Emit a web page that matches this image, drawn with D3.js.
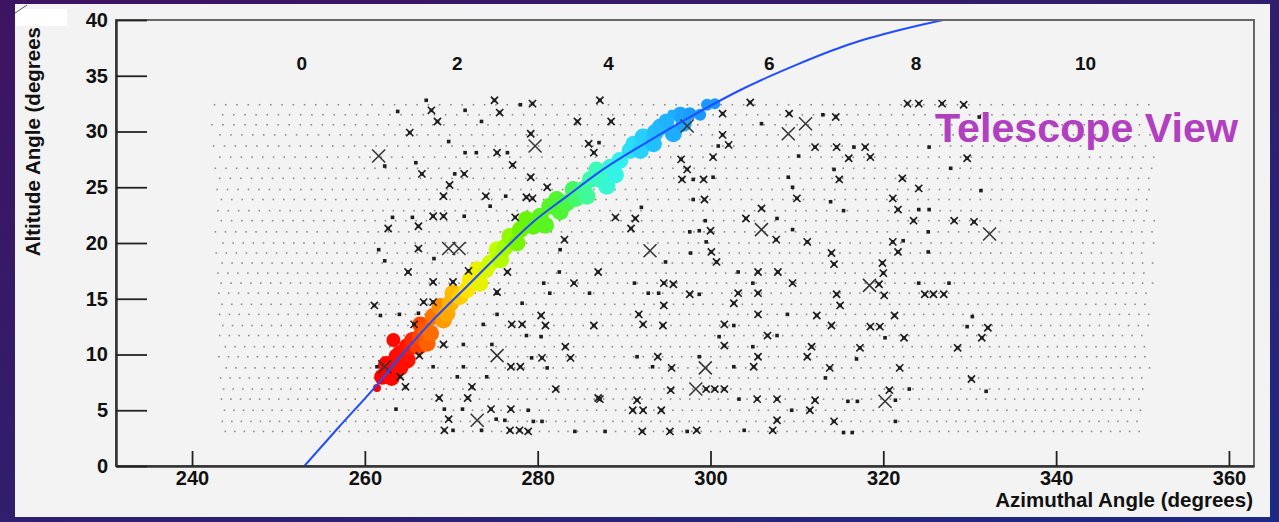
<!DOCTYPE html>
<html>
<head>
<meta charset="utf-8">
<script src="https://cdn.jsdelivr.net/npm/d3@7"></script>
<style>
  html, body { margin: 0; padding: 0; background: #2c1a68; }
  svg { display: block; }
  text { font-family: "Liberation Sans", Arial, sans-serif; font-weight: bold; fill: #111; }
</style>
</head>
<body>
<svg id="chart" width="1279" height="522"></svg>
<script>
// camera pixel grid (rows of the telescope camera, projected on the sky)
const rowAlt = [32.4, 31.5, 30.6, 29.7, 28.7, 27.7, 26.7, 25.8, 24.8, 23.9, 22.9, 22.0, 21.0, 20.0, 19.1, 18.2,
                17.3, 16.4, 15.5, 14.5, 13.6, 12.6, 11.7, 10.7, 9.8, 8.8, 7.9, 6.9, 6.0, 5.0, 4.0, 3.1];
const rowAzMin = [242.6, 242.9, 242.3, 242.6, 242.5, 242.6, 242.7, 242.6, 242.9, 242.8, 243.0, 242.8, 242.7, 243.0, 242.8, 242.9,
                  243.0, 242.8, 243.1, 242.9, 243.2, 243.0, 243.2, 243.3, 243.1, 243.4, 243.3, 243.1, 243.4, 243.2, 243.5, 243.3];
const rowAzMax = [350.9, 350.6, 350.8, 351.2, 351.5, 351.7, 351.3, 351.6, 351.2, 351.5, 351.3, 351.6, 351.2, 351.4, 351.0, 351.3,
                  351.1, 351.4, 351.0, 351.2, 350.9, 351.1, 350.8, 351.0, 350.6, 350.9, 350.5, 350.7, 350.4, 350.6, 350.3, 350.5];
const pixelPitch = 1.1;

// fitted shower track
const curveAz  = [253.0, 257.0, 261.2, 264.1, 267.9, 271.8, 275.7, 279.5, 283.4, 287.2, 293.0, 298.8, 303.4, 310.0, 316.0, 321.9, 326.9];
const curveAlt = [0.0, 3.5, 7.1, 9.8, 13.1, 16.1, 19.1, 21.9, 24.2, 26.4, 29.2, 31.8, 33.7, 36.0, 37.8, 39.1, 40.0];

// hit pixels along the track [az, alt, radius]
const hits = [
  [261.4,7.0,4],[262.0,8.0,8],[263.1,7.9,8],[262.5,9.1,8.5],[263.7,9.8,8.5],[264.1,10.1,8.5],[264.9,9.5,8.5],
  [264.9,10.7,8.5],[265.2,10.6,8],[264.1,8.8,8],[263.3,11.3,7],[265.5,11.3,8],[266.2,10.7,8.5],[266.4,11.6,8.5],
  [267.2,11.0,8.5],[266.4,12.7,8],[267.0,12.2,8.5],[267.6,11.9,8.5],[267.9,13.4,8.5],[269.1,13.1,8.5],[268.7,14.3,8.5],
  [269.5,13.7,8.5],[269.9,14.6,8.5],[270.2,15.5,8.5],[271.0,15.2,8.5],[271.8,15.8,8.5],[272.2,16.7,8.5],[273.3,16.4,8.5],
  [273.0,17.6,8.5],[274.0,17.6,8.5],[274.5,18.2,8.5],[275.3,19.4,8.5],[275.7,18.5,8.5],[276.2,19.6,8.5],[276.8,20.6,8.5],
  [278.0,21.2,8.5],[277.6,20.0,8.5],[278.7,22.1,8.5],[279.5,21.5,8.5],[280.3,22.4,8.5],[280.9,21.6,8.5],[281.4,23.3,8.5],
  [282.6,22.8,8.5],[282.2,23.9,8.5],[283.4,23.6,8.5],[284.1,24.8,8.5],[284.4,24.0,8.5],[285.3,24.8,8.5],[285.7,24.2,8.5],
  [286.1,25.7,8.5],[286.8,26.6,8],[287.2,25.7,8.5],[288.0,25.1,8.5],[288.4,26.8,8.5],[289.0,26.1,8.5],[289.5,27.4,8.5],
  [290.7,28.3,8.5],[291.1,28.9,8],[291.9,28.3,8.5],[292.2,29.5,8.5],[293.4,28.9,8.5],[293.6,29.9,8.5],[294.2,30.4,8.5],
  [294.9,30.9,8],[295.7,29.8,8.5],[296.5,31.5,8],[296.9,30.7,8],[297.6,31.6,6.5],[298.8,31.5,6],[299.6,32.4,6],
  [300.5,32.5,5.5],[295.5,31.6,4]
];

// triggered pixels
const xMarks = [
  [262.7,21.3],[261.1,14.4],[266.8,14.7],[267.9,14.7],[265.7,12.7],[269.1,10.9],[266.3,9.9],[264.1,8.0],[264.7,7.1],
  [272.4,7.1],[268.6,6.1],[274.6,5.1],[269.7,4.2],[269.2,3.2],[275.0,32.8],[279.4,32.5],[267.7,31.9],[275.6,31.7],
  [268.4,30.9],[284.6,30.9],[265.2,29.9],[279.2,29.8],[285.9,28.9],[275.3,28.1],[286.5,28.1],[277.1,27.0],[266.6,26.2],
  [271.5,26.2],[279.2,25.9],[269.8,25.2],[281.1,25.0],[269.1,24.2],[274.0,24.2],[278.7,24.1],[279.4,24.0],[267.9,22.4],
  [269.1,22.4],[277.4,22.3],[266.2,21.5],[283.1,20.3],[266.2,19.5],[265.0,17.4],[272.0,17.5],[276.5,17.4],[287.0,17.4],
  [267.9,16.5],[270.2,16.5],[284.2,16.4],[275.3,15.6],[280.4,13.5],[277.0,12.7],[278.2,12.7],[280.9,12.6],[286.5,12.6],
  [283.2,10.7],[280.5,9.7],[283.8,9.7],[276.9,8.9],[278.0,8.9],[282.1,6.9],[287.0,6.1],[271.9,6.1],[276.9,5.1],
  [276.8,3.2],[277.9,3.2],[278.9,3.1],[287.2,32.8],
  [304.6,32.6],[301.4,31.6],[309.1,31.6],[288.5,30.9],[301.4,29.7],[302.1,28.8],[296.6,27.5],[300.3,27.7],[297.3,26.6],
  [296.7,25.7],[299.2,25.7],[299.3,23.9],[310.0,24.0],[305.9,23.1],[289.0,22.3],[291.3,22.2],[304.1,22.2],[290.8,21.3],
  [300.0,21.1],[307.6,20.3],[300.1,19.2],[300.7,18.3],[305.5,17.4],[307.8,17.4],[294.6,16.4],[295.7,16.3],[309.5,16.4],
  [297.6,15.4],[303.2,15.5],[305.5,15.5],[294.6,14.4],[302.7,14.6],[291.7,13.6],[305.5,13.6],[292.2,12.7],[294.5,12.6],
  [301.6,12.7],[306.6,11.7],[301.6,10.8],[293.9,9.8],[305.5,9.8],[295.5,8.8],[305.0,8.9],[295.4,6.8],[299.5,6.9],
  [300.5,6.9],[301.6,6.9],[291.5,5.9],[287.2,6.0],[305.4,6.0],[307.7,6.0],[291.0,5.0],[292.2,5.0],[294.3,5.0],
  [307.7,4.1],[292.1,3.1],[295.3,3.1],[298.4,3.2],[307.2,3.2],
  [322.8,32.5],[324.1,32.5],[326.8,32.5],[329.3,32.4],[314.5,31.3],[312.1,28.6],[314.6,28.6],[317.9,28.6],[316.0,27.6],
  [318.5,27.7],[329.7,27.6],[314.9,25.7],[322.2,25.8],[324.1,24.9],[321.1,24.0],[321.7,23.0],[323.5,22.0],[328.2,22.0],
  [330.5,21.9],[311.2,20.1],[321.1,20.1],[314.0,19.1],[321.7,19.2],[314.3,18.1],[319.9,18.2],[320.0,17.3],[319.5,16.3],
  [320.1,15.3],[314.6,15.4],[324.8,15.4],[325.8,15.4],[327.0,15.4],[315.0,14.4],[312.3,13.5],[321.3,13.5],[314.0,12.6],
  [318.5,12.5],[319.6,12.5],[332.1,12.4],[322.4,11.5],[331.4,11.5],[311.7,10.7],[317.3,10.6],[328.6,10.6],[311.2,9.8],
  [313.8,8.8],[321.9,8.8],[330.2,7.8],[320.7,6.8],[312.1,5.9],[311.5,5.0],[314.3,4.0]
];
const bigXMarks = [
  [261.6,27.8],[262.3,8.9],[279.7,28.7],[269.7,19.5],[270.9,19.5],[275.3,9.9],[273.0,4.1],[297.3,30.5],[309.0,29.8],
  [305.9,21.2],[293.0,19.3],[299.4,8.8],[298.3,6.9],[311.0,30.7],[332.3,20.8],[318.4,16.2],[320.2,5.8]
];
const squareMarks = [
  [262.3,26.9],[263.8,31.8],[263.2,22.3],[261.6,19.4],[262.3,18.4],[261.8,13.5],[264.0,13.6],[261.4,8.9],[263.6,5.1],
  [266.2,13.7],[273.7,12.7],[275.3,15.5],[271.4,10.9],[274.7,10.9],[267.9,8.9],[271.4,8.9],[270.7,8.0],[274.1,8.0],
  [271.3,5.1],[275.2,4.2],[270.2,3.2],[273.5,3.2],[278.0,32.4],[267.1,32.8],[271.6,31.9],[273.5,30.9],[269.7,29.1],
  [271.6,28.1],[272.9,28.1],[276.5,28.1],[265.9,27.2],[270.4,26.2],[276.3,24.2],[274.5,23.3],[265.5,22.3],[271.5,22.4],
  [268.0,18.6],[282.6,19.4],[282.5,17.4],[280.7,16.4],[281.4,15.5],[286.0,15.5],[278.2,14.6],[275.3,13.6],[278.7,11.7],
  [280.4,11.6],[279.3,9.7],[281.1,8.8],[269.2,5.1],[278.9,5.0],[276.2,4.1],[279.5,4.0],[280.5,4.0],[284.3,3.1],[287.1,29.0],
  [305.9,30.7],[300.9,28.7],[310.2,27.8],[298.0,25.7],[300.3,25.9],[309.0,25.9],[309.5,25.0],[298.0,23.9],[292.0,23.2],
  [307.7,22.2],[299.4,22.0],[297.6,21.0],[298.7,21.1],[309.5,21.2],[299.5,20.1],[297.7,19.1],[294.8,18.3],[303.2,17.4],
  [291.2,16.4],[304.9,16.4],[292.8,15.5],[294.0,15.5],[298.7,15.4],[308.9,13.6],[302.7,12.6],[307.7,11.7],[301.0,11.6],
  [304.9,10.7],[291.5,9.8],[298.7,9.8],[293.3,8.9],[302.7,8.9],[303.3,6.0],[309.4,5.0],[297.3,3.1],[303.9,3.2],[287.8,3.1],
  [313.0,31.5],[316.6,28.6],[325.3,28.6],[314.3,26.6],[327.8,26.7],[331.3,24.7],[313.9,23.7],[315.4,22.9],[324.1,23.0],
  [325.3,23.0],[325.2,21.0],[322.3,20.2],[325.2,19.2],[324.1,16.4],[327.6,16.4],[330.3,13.4],[329.7,12.5],[320.2,11.5],
  [316.9,9.6],[313.3,7.9],[323.0,6.9],[331.9,6.7],[315.9,5.8],[321.4,5.9],[317.0,5.8],[321.4,4.0],[315.4,3.0],[316.4,3.0],
  [331.1,31.3]
];

// time labels across the top (microseconds)
const timeLabels = ["0", "2", "4", "6", "8", "10"];
const timeAz = [252.7, 270.7, 288.2, 306.8, 323.8, 343.4];
const timeAlt = 35.5;

const xMajor = [240, 260, 280, 300, 320, 340, 360];
const yMajor = [0, 5, 10, 15, 20, 25, 30, 35, 40];

const svg = d3.select("#chart");
const W = 1279, H = 522;
const margin = {left: 116, right: 25, top: 20, bottom: 56};

// slide background
const defs = svg.append("defs");
const grad = defs.append("linearGradient").attr("id", "bg")
    .attr("x1", "0").attr("y1", "0").attr("x2", "1").attr("y2", "1");
grad.append("stop").attr("offset", "0").attr("stop-color", "#3e1462");
grad.append("stop").attr("offset", "0.6").attr("stop-color", "#2d2070");
grad.append("stop").attr("offset", "1").attr("stop-color", "#1c2a84");
svg.append("rect").attr("width", W).attr("height", H).attr("fill", "url(#bg)");

// light panel
svg.append("rect").attr("x", 15).attr("y", 4).attr("width", 1255).attr("height", 513).attr("fill", "#f3f3f3");
svg.append("rect").attr("x", 15).attr("y", 9).attr("width", 52).attr("height", 17).attr("fill", "#ffffff");
svg.append("line").attr("x1", 15).attr("y1", 13).attr("x2", 27).attr("y2", 5)
    .attr("stroke", "#555").attr("stroke-width", 1);

const x = d3.scaleLinear().domain([231.2, 362.9]).range([margin.left, W - margin.right]);
const y = d3.scaleLinear().domain([0, 40]).range([H - margin.bottom, margin.top]);

defs.append("clipPath").attr("id", "plotclip").append("rect")
    .attr("x", x.range()[0]).attr("y", y.range()[1])
    .attr("width", x.range()[1] - x.range()[0]).attr("height", y.range()[0] - y.range()[1]);

// camera pixel dots
const gridDots = [];
rowAlt.forEach(function(alt, i) {
  const step = pixelPitch / Math.cos(alt * Math.PI / 180);
  for (let az = rowAzMin[i] + (i % 2) * step / 2; az <= rowAzMax[i]; az += step) {
    gridDots.push([az, alt]);
  }
});
svg.append("g")
  .selectAll("rect")
  .data(gridDots)
  .join("rect")
  .attr("x", d => x(d[0]) - 0.8)
  .attr("y", d => y(d[1]) - 0.8)
  .attr("width", 1.6)
  .attr("height", 1.6)
  .attr("fill", "#8c8c8c");

// track hits coloured by azimuth (time order)
const hitColor = d3.scaleLinear()
  .domain([262, 265, 267, 269.5, 272, 275, 278, 283, 286.5, 289.5, 293, 298])
  .range(["#ff0000", "#ff1400", "#ff5a00", "#ffa800", "#ffe800", "#c8ff00", "#6cf400", "#4cf53a",
          "#3cfcb4", "#33f0f0", "#22c4ff", "#1a98ff"])
  .clamp(true);
svg.append("g")
  .selectAll("circle")
  .data(hits)
  .join("circle")
  .attr("cx", d => x(d[0]))
  .attr("cy", d => y(d[1]))
  .attr("r", d => d[2])
  .attr("fill", d => hitColor(d[0]));

// markers
const marks = svg.append("g").attr("fill", "#1e1e1e").attr("stroke", "#1e1e1e");
marks.selectAll("path.x")
  .data(xMarks)
  .join("path")
  .attr("class", "x")
  .attr("d", function(d) {
    const cx = x(d[0]), cy = y(d[1]), s = 3.6;
    return "M" + (cx - s) + "," + (cy - s) + "L" + (cx + s) + "," + (cy + s) +
           "M" + (cx - s) + "," + (cy + s) + "L" + (cx + s) + "," + (cy - s);
  })
  .attr("stroke-width", 1.6);
marks.selectAll("rect.xc")
  .data(xMarks)
  .join("rect")
  .attr("class", "xc")
  .attr("x", d => x(d[0]) - 1.8)
  .attr("y", d => y(d[1]) - 1.8)
  .attr("width", 3.6).attr("height", 3.6)
  .attr("stroke", "none");
marks.selectAll("path.bx")
  .data(bigXMarks)
  .join("path")
  .attr("class", "bx")
  .attr("d", function(d) {
    const cx = x(d[0]), cy = y(d[1]), s = 6.5;
    return "M" + (cx - s) + "," + (cy - s) + "L" + (cx + s) + "," + (cy + s) +
           "M" + (cx - s) + "," + (cy + s) + "L" + (cx + s) + "," + (cy - s);
  })
  .attr("stroke", "#333")
  .attr("stroke-width", 1.5);
marks.selectAll("rect.sq")
  .data(squareMarks)
  .join("rect")
  .attr("class", "sq")
  .attr("x", d => x(d[0]) - 1.8)
  .attr("y", d => y(d[1]) - 1.8)
  .attr("width", 3.6).attr("height", 3.6)
  .attr("stroke", "none");

// fitted track line
const track = d3.range(curveAz.length).map(i => [curveAz[i], curveAlt[i]]);
svg.append("path")
  .datum(track)
  .attr("clip-path", "url(#plotclip)")
  .attr("fill", "none")
  .attr("stroke", "#1f4dff")
  .attr("stroke-width", 2)
  .attr("d", d3.line().x(d => x(d[0])).y(d => y(d[1])).curve(d3.curveMonotoneX));

// frame
svg.append("rect")
  .attr("x", x.range()[0]).attr("y", y.range()[1])
  .attr("width", x.range()[1] - x.range()[0]).attr("height", y.range()[0] - y.range()[1])
  .attr("fill", "none").attr("stroke", "#666").attr("stroke-width", 2);

// axes
const xAxisG = svg.append("g").attr("transform", "translate(0," + y.range()[0] + ")");
xAxisG.call(d3.axisBottom(x).tickValues(d3.range(235, 361, 5)).tickFormat("").tickSizeInner(-8).tickSizeOuter(0));
xAxisG.call(d3.axisBottom(x).tickValues(xMajor).tickFormat(d3.format("d")).tickSizeInner(-15).tickSizeOuter(0).tickPadding(5));
xAxisG.selectAll("line").attr("stroke", "#222").attr("stroke-width", 1.8);
xAxisG.selectAll("text").attr("font-size", 20).attr("font-family", null).attr("fill", "#111");

const yAxisG = svg.append("g").attr("transform", "translate(" + x.range()[0] + ",0)");
yAxisG.call(d3.axisLeft(y).tickValues(d3.range(0, 41, 1)).tickFormat("").tickSizeInner(-17).tickSizeOuter(0));
yAxisG.call(d3.axisLeft(y).tickValues(yMajor).tickFormat(d3.format("d")).tickSizeInner(-31).tickSizeOuter(0).tickPadding(8));
yAxisG.selectAll("line").attr("stroke", "#222").attr("stroke-width", 1.8);
yAxisG.selectAll("text").attr("font-size", 20).attr("font-family", null).attr("fill", "#111");
svg.selectAll(".domain").attr("stroke", "#333").attr("stroke-width", 2.5);

// time labels
svg.append("g")
  .selectAll("text")
  .data(timeLabels)
  .join("text")
  .attr("x", (d, i) => x(timeAz[i]))
  .attr("y", y(timeAlt))
  .attr("text-anchor", "middle")
  .attr("font-size", 19)
  .text(d => d);

// axis titles
svg.append("text")
  .attr("x", 1253).attr("y", 507)
  .attr("text-anchor", "end")
  .attr("font-size", 20.5)
  .text("Azimuthal Angle (degrees)");
svg.append("text")
  .attr("transform", "translate(40,27) rotate(-90)")
  .attr("text-anchor", "end")
  .attr("font-size", 20.5)
  .text("Altitude Angle (degrees");

// slide annotation
svg.append("text")
  .attr("x", 935).attr("y", 142)
  .attr("font-family", "Lato, 'Open Sans', sans-serif")
  .attr("font-weight", 900)
  .attr("font-size", 40)
  .attr("textLength", 303)
  .attr("lengthAdjust", "spacingAndGlyphs")
  .style("fill", "#b040c0")
  .text("Telescope View");
</script>
</body>
</html>
